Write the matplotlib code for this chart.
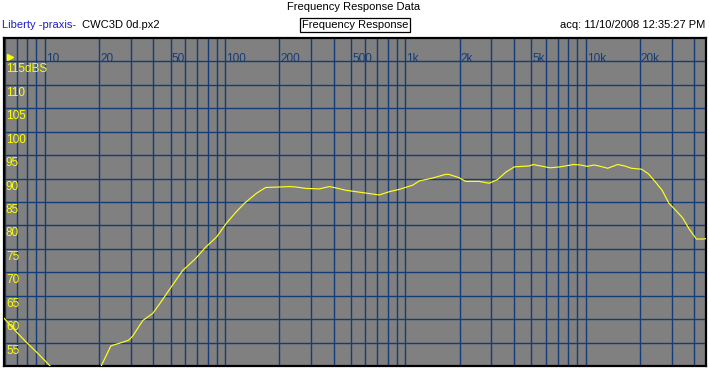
import numpy as np
import matplotlib.pyplot as plt

# frequency response
freq = [5.95, 7, 8, 9, 10, 10.85, 12, 14, 16, 18, 19.5, 20.7, 23.3, 25.7, 29.2,
        30.8, 35.0, 39.7, 43.3, 50.2, 58.3, 68.6, 78.3, 89.7, 101.5, 115.4, 128,
        148.8, 158.6, 168.5, 200, 228, 247, 281, 334, 379, 413, 469, 581, 718,
        815, 927, 1100, 1196, 1413, 1672, 1744, 1982, 2161, 2565, 2920, 3250,
        3620, 4030, 4890, 5110, 6350, 7220, 8580, 9360, 10220, 11140, 12100,
        13250, 15070, 16440, 17940, 20430, 22300, 24340, 26560, 28990, 31640,
        34530, 37690, 41130, 44890, 47000]
spl = [60.2, 57.2, 54.9, 53.0, 51.2, 49.8, 47.9, 45.0, 44.0, 45.0, 47.5, 50.2,
       54.3, 54.8, 55.5, 56.4, 59.7, 61.2, 63.2, 66.8, 70.4, 72.9, 75.4, 77.5,
       80.4, 82.9, 84.7, 86.8, 87.5, 88.1, 88.2, 88.3, 88.2, 87.9, 87.8, 88.3,
       88.0, 87.5, 87.0, 86.5, 87.2, 87.7, 88.6, 89.5, 90.1, 90.9, 90.9, 90.2,
       89.4, 89.4, 89.0, 89.8, 91.4, 92.5, 92.7, 93.0, 92.3, 92.5, 93.0, 92.9,
       92.6, 92.9, 92.6, 92.2, 93.0, 92.7, 92.2, 92.0, 91.0, 89.3, 87.5, 84.7,
       83.2, 81.6, 79.1, 77.1, 77.1, 77.2]

xtick_vals = [10, 20, 50, 100, 200, 500, 1000, 2000, 5000, 10000, 20000]
xtick_lbls = ["10", "20", "50", "100", "200", "500", "1k", "2k", "5k", "10k", "20k"]
ytick_vals = [115, 110, 105, 100, 95, 90, 85, 80, 75, 70, 65, 60, 55]
ytick_lbls = ["115dBS"] + [str(v) for v in ytick_vals[1:]]

plt.rcParams['font.family'] = ['Liberation Sans', 'DejaVu Sans']
gridc = '#143c78'

fig = plt.figure(figsize=(7.09, 3.80), dpi=100)
ax = fig.add_axes([4 / 709, 14 / 380, 702 / 709, 328 / 380])
ax.set_facecolor('#808080')
ax.set_xscale('log')
ax.set_xlim(5.95, 46500)
ax.set_ylim(50, 120)

# grid lines: 1..9 per decade, every 5 dB
for dec in [1, 10, 100, 1000, 10000]:
    for m in range(1, 10):
        f = m * dec
        if 6 <= f <= 46000:
            ax.axvline(f, color=gridc, lw=1.0, zorder=1)
for v in ytick_vals:
    ax.axhline(v, color=gridc, lw=1.0, zorder=1)

ax.plot(freq, spl, color='#ffff20', lw=0.85, zorder=3)

for v, s in zip(ytick_vals, ytick_lbls):
    ax.annotate(s, xy=(0, v), xycoords=('axes fraction', 'data'), xytext=(2, -2),
                textcoords='offset pixels', va='top', ha='left', color='#ffff00',
                fontsize=8.5, zorder=4)
for f, s in zip(xtick_vals, xtick_lbls):
    ax.annotate(s, xy=(f, 115), xytext=(1, 2), textcoords='offset pixels',
                va='center', ha='left', color=gridc, fontsize=8.5, zorder=4)
ax.plot([6.4], [115.9], marker='>', ms=4, color='#ffff00', clip_on=False, zorder=5)

ax.set_xticks([])
ax.set_yticks([])
ax.minorticks_off()
for sp in ax.spines.values():
    sp.set_color('black')
    sp.set_linewidth(1.6)

fig.text(354 / 709, 1 - 7 / 380, "Frequency Response Data", ha='center', va='center', fontsize=8)
fig.text(2 / 709, 1 - 25 / 380, "Liberty -praxis-", ha='left', va='center', fontsize=8, color='#1e1ec8')
fig.text(82 / 709, 1 - 25 / 380, "CWC3D 0d.px2", ha='left', va='center', fontsize=8)
fig.text(355 / 709, 1 - 25 / 380, "Frequency Response", ha='center', va='center', fontsize=8,
         bbox=dict(boxstyle='square,pad=0.15', fc='white', ec='black', lw=0.9))
fig.text(705 / 709, 1 - 25 / 380, "acq: 11/10/2008 12:35:27 PM", ha='right', va='center', fontsize=8)

fig.savefig('out.png', dpi=100)
